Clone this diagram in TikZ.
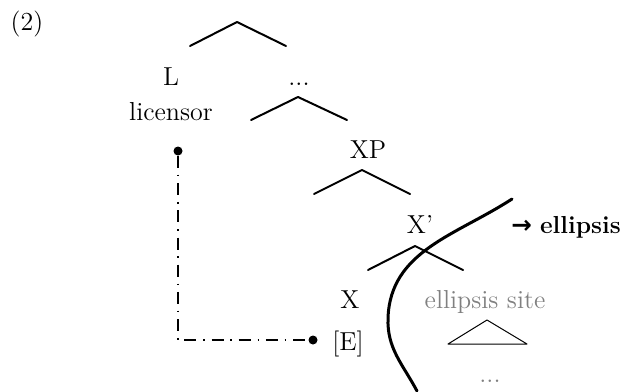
\documentclass[tikz,border=0pt]{standalone}
\usepackage{fontspec}
\usepackage{amsmath}
\newfontfamily\arrowfont{DejaVu Sans}
\usetikzlibrary{arrows}

\begin{document}
\begin{tikzpicture}[line cap=round,line join=round,x=0.5pt,y=-0.5pt,
		font=\fontsize{13}{16}\selectfont,
		lab/.style={anchor=base,inner sep=0pt},
		branch/.style={line width=1pt},
		licline/.style={line width=1pt,line cap=butt,dash pattern=on 6pt off 3.4pt on 0.8pt off 3.4pt},
		dotend/.style={fill=black,circle,inner sep=0pt,minimum size=4.5pt}]
		\useasboundingbox (0,0) rectangle (620,391);
		\node[lab] (ex) at (27,31) {(2)};
		% tree
		\coordinate (top) at (237,22);
		\draw[branch] (top) ++(-47,24) -- (top) -- ++(49,24);
		\node[lab] (L) at (171,85) {L};
		\node[lab] (lic) at (171,120) {licensor};
		\node[lab] (dots) at (299,85) {...};
		\coordinate (dtop) at (298,97);
		\draw[branch] (dtop) ++(-47,23) -- (dtop) -- ++(49,23);
		\node[lab] (xp) at (368,158) {XP};
		\coordinate (xptop) at (362,170);
		\draw[branch] (xptop) ++(-48,24) -- (xptop) -- ++(48,24);
		\node[lab] (xbar) at (420,233) {X'};
		\node[lab,anchor=base west,font=\fontsize{12.3}{14}\selectfont] (ell) at (511,233) {{\arrowfont\bfseries →}\ \textbf{ellipsis}};
		\coordinate (xbtop) at (415,246);
		\draw[branch] (xbtop) ++(-47,24) -- (xbtop) -- ++(48,24);
		\node[lab] (x) at (350,308) {X};
		\node[lab] (e) at (348,350) {[E]};
		\node[lab,text=gray] (site) at (485,308) {ellipsis site};
		\draw[line width=0.5pt] (487,320) -- (527,344) -- (448,344) -- cycle;
		\node[lab,text=gray] (sitedots) at (490,382) {...};
		% licensing line
		\node[dotend] (licdot) at (178,151) {};
		\node[dotend] (edot) at (313,340) {};
		\draw[licline] (licdot) |- (edot);
		% ellipsis boundary
		\draw[line width=1.5pt] (512,199) to[out=213,in=88] (388,318) to[out=-92,in=118] (417,391);
	\end{tikzpicture}
\end{document}
